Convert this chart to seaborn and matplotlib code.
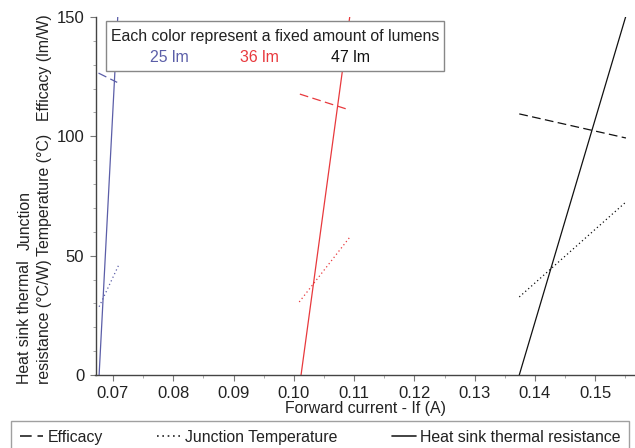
import numpy as np
import pandas as pd
import matplotlib
matplotlib.use("Agg")
import matplotlib.pyplot as plt
import seaborn as sns
from matplotlib.lines import Line2D
from matplotlib.patches import Rectangle

# ---- data ----
lumens = ["25 lm", "36 lm", "47 lm"]
colors = ["#5b5ea8", "#e8393d", "#111111"]
metrics = ["Efficacy", "Junction Temperature", "Heat sink thermal resistance"]

# endpoints of each segment: current (A) and value
eff_x = [[0.0676, 0.0707], [0.1010, 0.1093], [0.1374, 0.1551]]
eff_y = [[126.5, 122.6], [117.7, 111.0], [109.4, 99.3]]
tj_x = [[0.0677, 0.0709], [0.1009, 0.1093], [0.1374, 0.1551]]
tj_y = [[28.6, 45.8], [30.6, 57.8], [32.7, 72.5]]
rth_x = [[0.0677, 0.0708], [0.1012, 0.1093], [0.1374, 0.1551]]
rth_y = [[0.0, 150.5], [0.0, 150.5], [0.0, 150.5]]

xticks = [0.07, 0.08, 0.09, 0.10, 0.11, 0.12, 0.13, 0.14, 0.15]
xticklabels = ["0.07", "0.08", "0.09", "0.10", "0.11", "0.12", "0.13", "0.14", "0.15"]
yticks = [0, 50, 100, 150]

rows = []
for i, lm in enumerate(lumens):
    for m, xs, ys in zip(metrics, [eff_x, tj_x, rth_x], [eff_y, tj_y, rth_y]):
        for xv, yv in zip(xs[i], ys[i]):
            rows.append({"current": xv, "value": yv, "lumens": lm, "metric": m})
df = pd.DataFrame(rows)

sns.set_theme(style="white")
plt.rcParams["font.family"] = ["Liberation Sans", "DejaVu Sans"]
FS = 11.4
TXT = "#222222"

fig = plt.figure(figsize=(6.35, 4.48), dpi=100)
L, R, B, T = 95.5, 635, 375, 17
W, H = 635, 448
ax = fig.add_axes([L / W, 1 - B / H, (R - L) / W, (B - T) / H])

dash_map = {"Efficacy": (7, 3.5), "Junction Temperature": (1, 2.2),
            "Heat sink thermal resistance": ""}
sns.lineplot(data=df, x="current", y="value", hue="lumens", style="metric",
             palette=dict(zip(lumens, colors)), dashes=dash_map,
             estimator=None, sort=False, linewidth=0.9, legend=False, ax=ax)

ax.set_xlim(0.0671, 0.1566)
ax.set_ylim(0, 150)
ax.set_xticks(xticks)
ax.set_xticklabels(xticklabels)
ax.set_yticks(yticks)
ax.set_xticks(np.arange(0.07, 0.157, 0.005), minor=True)
ax.set_yticks(np.arange(0, 151, 10), minor=True)
ax.tick_params(axis="both", which="major", labelsize=12, length=4, width=0.8,
               color="#777777", direction="out", bottom=True, left=True, pad=4,
               labelcolor=TXT)
ax.tick_params(axis="both", which="minor", length=2.5, width=0.6,
               color="#999999", direction="out", bottom=True, left=True)
for s in ["top", "right"]:
    ax.spines[s].set_visible(False)
for s in ["left", "bottom"]:
    ax.spines[s].set_color("#444444")
    ax.spines[s].set_linewidth(1.0)
ax.set_xlabel("Forward current - If (A)", fontsize=FS, labelpad=0, color=TXT)
ax.set_ylabel("")

# annotation box
bx0, bx1, by0, by1 = 106, 444, 21, 71
fig.patches.append(Rectangle((bx0 / W, 1 - by1 / H), (bx1 - bx0) / W, (by1 - by0) / H,
                             transform=fig.transFigure, facecolor="white",
                             edgecolor="#888888", linewidth=1.0, zorder=5))
fig.text(275 / W, 1 - 36 / H, "Each color represent a fixed amount of lumens",
         ha="center", va="center", fontsize=FS, color=TXT, zorder=6)
for lab, col, cx in zip(lumens, colors, [169, 259, 351]):
    fig.text(cx / W, 1 - 58 / H, lab, ha="center", va="center", fontsize=FS,
             color=col, zorder=6)

# y-axis labels (stacked rotated labels)
def vtext(x, y, s, va):
    fig.text(x / W, 1 - y / H, s, rotation=90, ha="center", va=va,
             fontsize=FS, color=TXT)

vtext(25, 384, "Heat sink thermal", "bottom")
vtext(44, 384, "resistance (°C/W)", "bottom")
vtext(25, 250, "Junction", "bottom")
vtext(44, 256, "Temperature (°C)", "bottom")
vtext(44, 14, "Efficacy (lm/W)", "top")

# bottom legend
handles = [Line2D([], [], color=TXT, lw=1.2, dashes=dash_map[m]) if dash_map[m]
           else Line2D([], [], color=TXT, lw=1.2) for m in metrics]
leg = fig.legend(handles, metrics, loc="upper center", ncol=3,
                 bbox_to_anchor=(320 / W, 1 - 421 / H), fontsize=FS,
                 frameon=True, fancybox=False, edgecolor="#888888",
                 handlelength=1.5, handletextpad=0.25, columnspacing=3.45,
                 borderpad=0.55, borderaxespad=0)
leg.get_frame().set_linewidth(1.0)
for t in leg.get_texts():
    t.set_color(TXT)

fig.savefig("out.png", dpi=100)
